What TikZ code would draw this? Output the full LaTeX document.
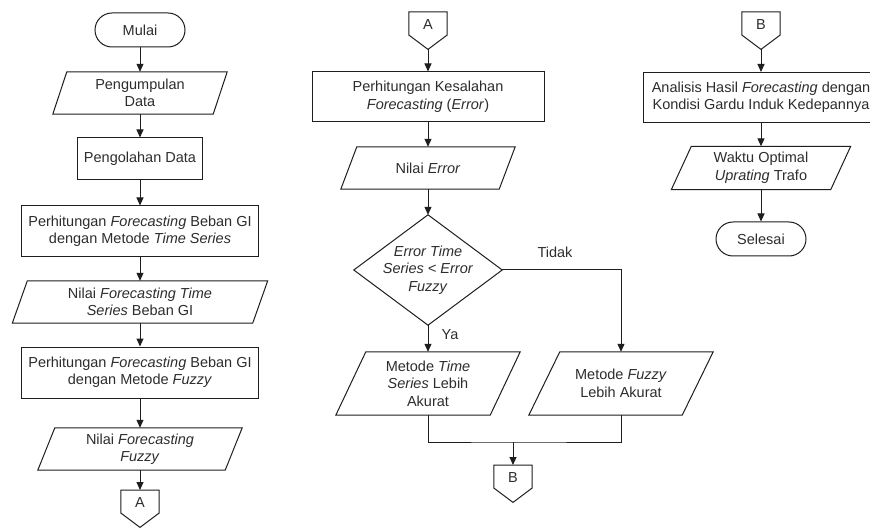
\documentclass[tikz,border=0pt]{standalone}
\usepackage{fontspec}
\setmainfont{Liberation Sans}
\usetikzlibrary{arrows.meta,calc}
\definecolor{ln}{RGB}{30,30,30}
\definecolor{tx}{RGB}{45,45,45}
\tikzset{
  base/.style={inner sep=0pt, align=center, text=tx, font=\fontsize{14.5}{17.5}\selectfont},
  outline/.style={draw=ln, line width=1pt},
  procbox/.style={base, outline},
  term/.style={base, outline, rounded corners=17pt, minimum width=90pt, minimum height=34pt},
  flow/.style={draw=ln, line width=1pt, -{Triangle[length=8pt,width=7pt]}},
  plain/.style={draw=ln, line width=1pt},
}
% parallelogram: name, cx, cy, midwidth, height, slant, text
\newcommand\pgram[7]{%
  \node[base, minimum width=#4pt, minimum height=#5pt] (#1) at (#2,#3) {#7};
  \draw[outline] ($(#1.north west)+(#6/2,0)$) -- ($(#1.north east)+(#6/2,0)$)
     -- ($(#1.south east)-(#6/2,0)$) -- ($(#1.south west)-(#6/2,0)$) -- cycle;}
% off-page connector: name, cx, ytop, letter
\newcommand\offpage[4]{%
  \node[base, minimum width=38pt, minimum height=37pt, anchor=north] (#1) at (#2,#3) {};
  \node[base] (#1t) at ($(#1.north)+(0,13)$) {#4};
  \draw[outline] (#1.north west) -- (#1.north east) -- ($(#1.north east)+(0,23)$)
     -- (#1.south) -- ($(#1.north west)+(0,23)$) -- cycle;}
\begin{document}
\begin{tikzpicture}[x=1pt,y=-1pt]
\useasboundingbox (0,0) rectangle (870,529);
\clip (0,0) rectangle (870,529);
\fill[white] (0,0) rectangle (870,529);

% ---------- left column ----------
\node[term] (mulai) at (140,30) {Mulai};
\pgram{p1}{140}{93}{160}{42}{14}{Pengumpulan\\Data}
\node[procbox, minimum width=125pt, minimum height=42pt] (p2) at (140,159) {Pengolahan Data};
\node[procbox, minimum width=237pt, minimum height=51pt] (p3) at (140,231.5)
  {Perhitungan \textit{Forecasting} Beban GI\\dengan Metode \textit{Time Series}};
\pgram{p4}{140}{302}{240}{42}{15}{Nilai \textit{Forecasting Time}\\\textit{Series} Beban GI}
\node[procbox, minimum width=237pt, minimum height=51pt] (p5) at (140,372.5)
  {Perhitungan \textit{Forecasting} Beban GI\\dengan Metode \textit{Fuzzy}};
\pgram{p6}{140}{449}{187}{42}{17}{Nilai \textit{Forecasting}\\\textit{Fuzzy}}
\offpage{A1}{140}{490}{A}

\draw[flow] (mulai.south) -- (p1.north);
\draw[flow] (p1.south) -- (p2.north);
\draw[flow] (p2.south) -- (p3.north);
\draw[flow] (p3.south) -- (p4.north);
\draw[flow] (p4.south) -- (p5.north);
\draw[flow] (p5.south) -- (p6.north);
\draw[flow] (p6.south) -- (A1.north);

% ---------- middle column ----------
\offpage{A2}{428}{12}{A}
\node[procbox, minimum width=232pt, minimum height=50pt] (m1) at (428,97)
  {Perhitungan Kesalahan\\\textit{Forecasting} (\textit{Error})};
\pgram{m2}{428}{168}{158}{42}{16}{Nilai \textit{Error}}
\node[base, minimum width=148pt, minimum height=110pt] (dia) at (428,270)
  {\textit{Error Time}\\\textit{Series < Error}\\\textit{Fuzzy}};
\draw[outline] (dia.north) -- (dia.east) -- (dia.south) -- (dia.west) -- cycle;
\pgram{mts}{428}{383.5}{154}{63}{30}{Metode \textit{Time}\\\textit{Series} Lebih\\Akurat}
\pgram{mfz}{621}{383.5}{153}{63}{31}{Metode \textit{Fuzzy}\\Lebih Akurat}
\node[base] (ya) at (450,335) {Ya};
\node[base] (tidak) at (555,252) {Tidak};
\coordinate (jn) at (513,442);
\offpage{B1}{513}{465}{B}

\draw[flow] (A2.south) -- (m1.north);
\draw[flow] (m1.south) -- (m2.north);
\draw[flow] (m2.south) -- (dia.north);
\draw[flow] (dia.south) -- (mts.north);
\draw[flow] (dia.east) -| (mfz.north);
\draw[plain] (mts.south) |- (jn) -| (mfz.south);
\draw[flow] (jn) -- (B1.north);

% ---------- right column ----------
\offpage{B2}{761}{12}{B}
\node[procbox, minimum width=236pt, minimum height=50pt] (an) at (761,97.5)
  {Analisis Hasil \textit{Forecasting} dengan\\Kondisi Gardu Induk Kedepannya};
\pgram{w}{761}{168}{159}{43}{20}{Waktu Optimal\\\textit{Uprating} Trafo}
\node[term] (sel) at (761,239) {Selesai};

\draw[flow] (B2.south) -- (an.north);
\draw[flow] (an.south) -- (w.north);
\draw[flow] (w.south) -- (sel.north);
\end{tikzpicture}
\end{document}
